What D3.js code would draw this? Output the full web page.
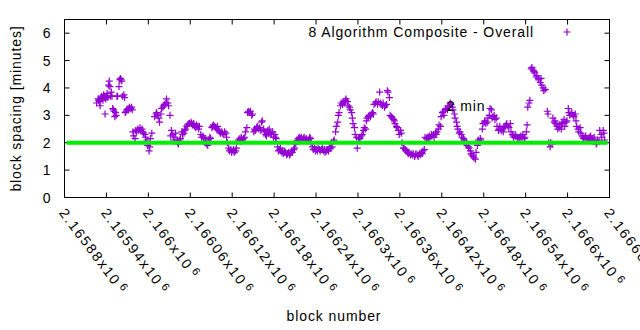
<!DOCTYPE html>
<html>
<head>
<meta charset="utf-8">
<script src="https://cdn.jsdelivr.net/npm/d3@7/dist/d3.min.js"></script>
<style>
  body { margin: 0; background: #fff; }
  svg text { font-family: "Liberation Sans", Arial, sans-serif; font-size: 14px; letter-spacing: 0.9px; fill: #000; }
  svg text.xtick { letter-spacing: 1.9px; }
</style>
</head>
<body>
<svg id="chart" width="640" height="330"></svg>
<script>
// block heights are stored as offsets from this block
const BLOCK_BASE = 2165880;

const blockOffsets = [
  46,48,49,50,51,52,53,54,55,56,57,58,59,60,61,62,63,64,65,66,67,68,69,70,71,72,73,74,75,76,78,79,80,81,82,83,85,86,87,88,89,91,92,93,95,96,97,
  98,99,101,102,103,105,106,108,109,111,112,113,115,116,118,119,121,122,123,125,
  129,131,132,133,135,136,138,139,141,142,143,145,146,148,149,151,
  152,153,155,156,158,159,161,162,163,165,166,168,169,171,172,173,175,176,178,179,181,182,183,185,186,188,189,191,192,193,
  195,196,198,199,201,202,203,205,206,208,209,211,212,213,215,216,218,219,221,222,223,225,226,228,229,231,232,233,235,236,238,239,241,242,243,245,246,248,249,251,252,253,255,256,258,259,261,
  262,263,265,266,268,269,271,272,273,275,276,278,279,281,282,283,285,286,288,289,291,292,293,295,296,298,299,301,302,303,
  305,306,308,309,311,312,313,315,316,318,319,321,322,323,325,326,328,329,331,332,
  333,335,336,338,339,341,342,343,345,346,348,349,351,352,353,
  355,356,358,359,361,362,363,365,366,368,369,371,372,373,375,376,378,379,381,382,383,385,
  386,388,389,391,392,393,395,396,398,399,401,402,403,405,406,408,409,411,412,413,415,416,418,419,421,422,423,425,
  426,428,429,431,432,433,435,436,438,439,441,442,443,445,446,448,449,451,452,453,455,456,458,459,461,462,463,465,466,468,469,471,472,473,475,476,478,479,481,482,483,485,
  486,488,489,491,492,493,495,496,498,499,501,502,503,505,506,508,509,511,512,513,515,516,518,
  519,521,522,523,525,526,528,529,531,532,533,535,536,538,539,541,542,543,545,546,548,549,551,552,553,555,556,558,559,561,562,563,565,566,568,569,571,572,573,575,576,578,579,581,582,583,585,586,588,589,591,592,593,595,596,
  598,599,601,602,603,605,606,608,609,611,612,613,615,616,618,619,621,622,623,625,626,628,629,631,632,633,635,636,638,639,641,642,643,645,646,648,649,651,652,653,655,656,658,659,661,662,
  663,665,666,668,669,671,672,673,675,676,678,679,681,682,683,685,686,688,
  691,692,693,695,696,698,699,701,702,703,705,706,708,709,711,712,713,715,716,718,719,721,722,723,725,726,728,729,731,732,733,735,736,738,739,741,742,743,745,746,748,749,751,752,753,755,756,758,759,761,762,763,765,766,768,769,771,772,773
];

// averaged spacing per block, minutes
const spacingMinutes = [
  3.45,3.6,3.55,3.5,3.35,3.6,3.7,3.65,3.55,3.75,3.7,3.05,3.6,3.7,3.8,3.65,4.1,4.25,4.05,3.7,3.85,3.7,3.25,3.2,3.15,2.95,3.1,3.0,3.7,3.7,4.05,4.3,4.35,4.3,4.25,3.7,3.75,3.65,3.1,3.15,3.2,3.25,3.2,3.3,3.25,3.3,3.2,
  2.4,2.25,2.15,2.45,2.4,2.5,2.45,2.55,2.45,2.5,2.4,2.35,2.3,2.2,2.1,1.9,1.7,1.85,2.15,2.35,
  2.95,3.05,3.1,3.0,2.9,2.75,3.05,3.25,3.3,3.35,3.4,3.45,3.6,3.45,3.35,3.0,
  2.25,2.45,2.3,2.1,2.2,2.35,2.1,2.0,1.95,2.1,2.15,2.4,2.3,2.35,2.45,2.5,2.6,2.65,2.7,2.7,2.75,2.7,2.65,2.7,2.6,2.55,2.65,2.6,2.5,2.6,
  2.3,2.2,2.25,2.2,2.15,2.05,1.95,1.9,2.1,2.2,2.15,2.55,2.6,2.65,2.6,2.55,2.5,2.6,2.45,2.4,2.35,2.4,2.35,2.3,2.4,2.35,2.2,2.0,1.8,1.7,1.75,1.65,1.7,1.75,1.65,1.7,1.8,2.05,2.1,2.15,2.05,2.2,2.1,2.15,2.2,2.4,2.55,
  3.1,3.15,3.1,3.15,3.0,3.05,2.4,2.5,2.45,2.55,2.6,2.5,2.55,2.45,2.75,2.8,2.5,2.4,2.3,2.25,2.45,2.35,2.5,2.35,2.3,2.4,2.2,2.3,2.2,2.15,
  1.85,1.7,1.75,1.8,1.65,1.7,1.6,1.7,1.65,1.55,1.6,1.65,1.55,1.6,1.7,1.65,1.75,1.8,1.95,2.05,
  2.1,2.15,2.2,2.15,2.2,2.1,2.15,2.2,2.1,2.15,2.05,2.1,2.2,2.15,2.0,
  1.85,1.75,1.8,1.7,1.75,1.7,1.8,1.75,1.7,1.75,1.8,1.7,1.75,1.65,1.7,1.75,1.7,1.85,1.8,2.0,1.85,2.05,
  2.1,2.4,2.6,2.75,3.0,3.1,3.35,3.45,3.4,3.5,3.45,3.55,3.6,3.5,3.35,3.3,3.2,3.1,2.9,2.7,2.55,2.3,2.2,1.8,2.15,2.2,2.15,2.25,
  2.3,2.45,2.55,2.5,2.8,2.9,2.95,3.0,2.95,3.05,3.1,3.05,3.4,3.45,3.5,3.4,3.5,3.85,3.45,3.4,3.35,3.45,3.3,3.35,3.4,3.9,3.85,3.65,3.0,2.95,2.9,2.85,2.8,2.7,2.6,2.55,2.45,2.3,2.45,2.35,2.0,1.8,
  1.8,1.75,1.7,1.65,1.6,1.65,1.55,1.6,1.55,1.6,1.5,1.55,1.6,1.55,1.5,1.6,1.55,1.65,1.6,1.7,1.75,2.2,2.15,
  2.2,2.15,2.25,2.2,2.3,2.25,2.3,2.2,2.35,2.3,2.4,2.5,2.65,2.6,2.95,3.1,3.15,3.0,3.2,3.25,3.2,3.35,3.3,3.45,3.4,3.3,3.2,3.05,2.9,2.75,2.6,2.5,2.35,2.4,2.3,2.2,2.15,2.1,2.05,2.0,1.9,1.85,1.8,1.7,1.6,1.55,1.5,1.45,1.4,1.65,1.9,2.1,2.05,2.15,2.1,
  2.5,2.7,2.75,2.8,2.7,2.75,2.9,3.0,3.25,3.2,2.9,2.95,3.0,2.85,2.9,2.6,2.45,2.5,2.6,2.45,2.5,2.4,2.55,2.6,2.65,2.7,2.6,2.55,2.7,2.4,2.3,2.25,2.2,2.3,2.25,2.2,2.15,2.2,2.15,2.25,2.2,2.3,2.15,2.2,2.4,2.65,
  3.3,3.45,3.55,4.7,4.75,4.65,4.6,4.55,4.4,4.45,4.35,4.3,4.2,4.35,4.1,4.0,3.9,3.95,
  3.15,3.05,2.0,1.85,2.0,1.95,2.9,2.75,2.8,2.7,2.6,2.5,2.55,2.65,2.5,2.75,2.7,2.85,2.6,2.75,2.8,3.25,3.1,3.0,3.05,3.1,3.0,2.95,3.05,2.8,2.6,2.5,2.4,2.55,2.35,2.25,2.2,2.15,2.2,2.25,2.15,2.1,2.2,2.1,2.25,2.15,2.05,2.2,2.1,1.95,2.0,2.1,2.05,2.45,2.3,2.2,2.45,2.35,2.1
];

const xTickBlocks = [2165880, 2165940, 2166000, 2166060, 2166120, 2166180, 2166240,
  2166300, 2166360, 2166420, 2166480, 2166540, 2166600, 2166660];
const yTicks = [0, 1, 2, 3, 4, 5, 6];

const seriesName = "8 Algorithm Composite - Overall";
const targetSpacing = 2;
const targetLabel = "2 min";
const targetLabelAt = {block: 2166427, minutes: 3.35};

const WIDTH = 640, HEIGHT = 330;
const plot = {left: 64.5, right: 609.5, top: 19.5, bottom: 197.5};
const PURPLE = "#9400d3";
const TICK = 5;

const svg = d3.select("#chart");
svg.append("rect").attr("width", WIDTH).attr("height", HEIGHT).attr("fill", "#fff");

const x = d3.scaleLinear()
  .domain([xTickBlocks[0], xTickBlocks[xTickBlocks.length - 1]])
  .range([plot.left, plot.right]);
const y = d3.scaleLinear().domain([0, 6.5]).range([plot.bottom, plot.top]);

const points = d3.range(Math.min(blockOffsets.length, spacingMinutes.length))
  .map(i => ({block: BLOCK_BASE + blockOffsets[i], minutes: spacingMinutes[i]}));

const crossPath = "M-3.5,0H3.5M0,-3.5V3.5";

// ticks on all four sides, pointing inward
const axisStyle = g => {
  g.select(".domain").remove();
  g.selectAll(".tick line").attr("stroke", "#000");
  g.selectAll(".tick text").remove();
};
svg.append("g").attr("transform", `translate(0,${plot.bottom})`)
  .call(d3.axisBottom(x).tickValues(xTickBlocks).tickSize(-TICK).offset(0)).call(axisStyle);
svg.append("g").attr("transform", `translate(0,${plot.top})`)
  .call(d3.axisTop(x).tickValues(xTickBlocks).tickSize(-TICK).offset(0)).call(axisStyle);
svg.append("g").attr("transform", `translate(${plot.left},0)`)
  .call(d3.axisLeft(y).tickValues(yTicks).tickSize(-TICK).offset(0)).call(axisStyle);
svg.append("g").attr("transform", `translate(${plot.right},0)`)
  .call(d3.axisRight(y).tickValues(yTicks).tickSize(-TICK).offset(0)).call(axisStyle);

// y tick labels
svg.append("g").selectAll("text")
  .data(yTicks)
  .enter()
  .append("text")
  .attr("x", plot.left - 13)
  .attr("y", d => y(d))
  .attr("dy", "0.36em")
  .attr("text-anchor", "end")
  .text(d => d);

// x tick labels, rotated, as "2.16588x10^6"
const xLabels = svg.append("g").selectAll("text")
  .data(xTickBlocks)
  .enter()
  .append("text")
  .attr("class", "xtick")
  .attr("transform", d => `translate(${x(d) - 2},210) rotate(53)`)
  .attr("dy", "0.36em");
xLabels.append("tspan").text(d => String(+(d / 1e6).toFixed(5)) + "x10");
xLabels.append("tspan")
  .attr("dx", 3)
  .attr("dy", -4)
  .style("font-size", "11px")
  .text("6");

// axis titles
svg.append("text")
  .attr("transform", `translate(21,${(plot.top + plot.bottom) / 2}) rotate(-90)`)
  .attr("text-anchor", "middle")
  .text("block spacing [minutes]");
svg.append("text")
  .attr("x", 334)
  .attr("y", 321)
  .attr("text-anchor", "middle")
  .text("block number");

// data points
svg.append("g").attr("class", "points")
  .selectAll("path")
  .data(points)
  .enter()
  .append("path")
  .attr("d", crossPath)
  .attr("transform", d => `translate(${x(d.block)},${y(d.minutes)})`)
  .attr("fill", "none")
  .attr("stroke", PURPLE)
  .attr("stroke-width", 1.2);

// 2 minute target line
svg.append("line")
  .attr("x1", x.range()[0] + 2)
  .attr("x2", x.range()[1] - 2)
  .attr("y1", y(targetSpacing))
  .attr("y2", y(targetSpacing))
  .attr("stroke", "#00ee00")
  .attr("stroke-width", 4);

svg.append("text")
  .attr("x", x(targetLabelAt.block))
  .attr("y", y(targetLabelAt.minutes))
  .attr("dy", "0.36em")
  .text(targetLabel);

// legend
svg.append("text")
  .attr("x", 534)
  .attr("y", 32)
  .attr("dy", "0.36em")
  .attr("text-anchor", "end")
  .text(seriesName);
svg.append("path")
  .attr("d", crossPath)
  .attr("transform", "translate(567,32)")
  .attr("fill", "none")
  .attr("stroke", PURPLE)
  .attr("stroke-width", 1.2);

// border
svg.append("rect")
  .attr("x", plot.left)
  .attr("y", plot.top)
  .attr("width", plot.right - plot.left)
  .attr("height", plot.bottom - plot.top)
  .attr("fill", "none")
  .attr("stroke", "#000");
</script>
</body>
</html>
